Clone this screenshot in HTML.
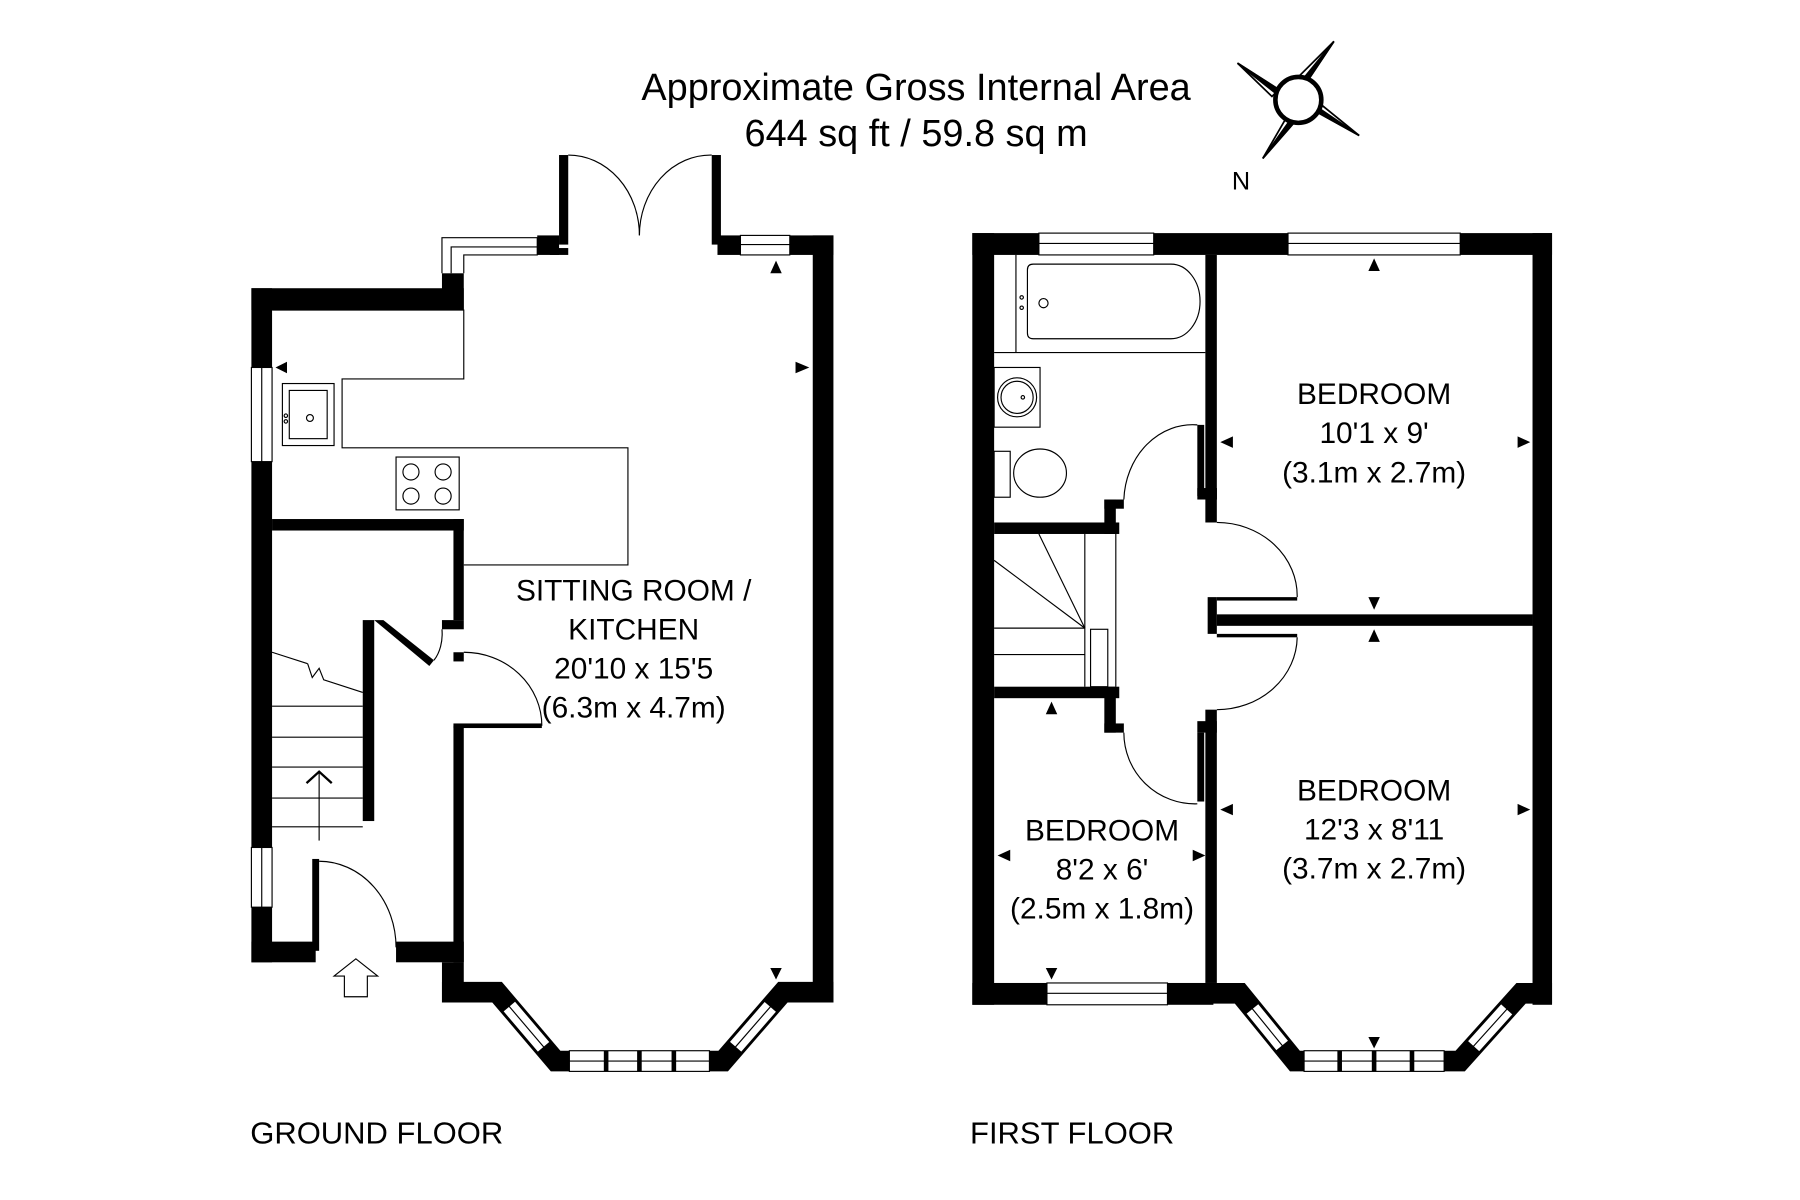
<!DOCTYPE html>
<html><head><meta charset="utf-8"><style>
html,body{margin:0;padding:0;background:#fff;}
svg{display:block;}
text{font-family:"Liberation Sans",Arial,sans-serif;fill:#000;}
</style></head><body>
<svg width="1800" height="1200" viewBox="0 0 1568 1045" preserveAspectRatio="none" xmlns="http://www.w3.org/2000/svg">
<rect width="1568" height="1045" fill="#fff"/>
<!-- Title -->
<text x="798" y="87" font-size="33" text-anchor="middle">Approximate Gross Internal Area</text>
<text x="798" y="127" font-size="33" text-anchor="middle">644 sq ft / 59.8 sq m</text>
<!-- Compass -->
<g stroke="#000" stroke-width="1.5" fill="#fff">
<polygon points="1100,138 1122,100 1128,106"/>
<polygon points="1162,36 1138,72 1132,66"/>
<polygon points="1078,55 1114,78 1108,84"/>
<polygon points="1184,118 1148,98 1152,92"/>
<polygon points="1100,138 1125,103 1128,106" fill="#000"/>
<polygon points="1162,36 1135,69 1138,72" fill="#000"/>
<polygon points="1078,55 1111,81 1114,78" fill="#000"/>
<polygon points="1184,118 1150,95 1148,98" fill="#000"/>
<circle cx="1131" cy="87" r="20" stroke-width="4"/>
</g>
<text x="1081" y="165" font-size="22" text-anchor="middle">N</text>

<!-- GROUND FLOOR -->
<g fill="#000">
<rect x="219" y="251" width="18" height="69"/>
<rect x="219" y="402" width="18" height="336"/>
<rect x="219" y="790" width="18" height="48"/>
<rect x="219" y="820" width="56" height="18"/>
<rect x="219" y="251" width="185" height="19"/>
<rect x="385" y="238" width="19" height="32"/>
<rect x="468" y="205" width="19" height="17"/>
<rect x="479" y="216" width="16" height="6"/>
<rect x="487" y="135" width="8" height="78"/>
<rect x="620" y="135" width="8" height="78"/>
<rect x="625" y="205" width="20" height="17"/>
<rect x="688" y="205" width="38" height="17"/>
<rect x="708" y="205" width="18" height="668"/>
<rect x="385" y="838" width="19" height="35"/>
<rect x="345" y="820" width="59" height="18"/>
<!-- interior -->
<rect x="237" y="452" width="167" height="10"/>
<rect x="395" y="452" width="9" height="88"/>
<rect x="385" y="540" width="19" height="8"/>
<rect x="395" y="568" width="9" height="8"/>
<rect x="395" y="632" width="9" height="206"/>
<rect x="395" y="630" width="77" height="4"/>
<rect x="316" y="540" width="10" height="175"/>
<rect x="272" y="748" width="6" height="80"/>
<polygon points="326,540 334,540 378,575 374,580"/>
</g>
<!-- ground bay -->
<polyline points="385,864 433,864 484,924 630,924 682,864 726,864" fill="none" stroke="#000" stroke-width="18" stroke-linejoin="miter"/>
<g transform="translate(433,864) rotate(49.6)">
<rect x="16" y="-7" width="47" height="14" fill="#fff" stroke="#000" stroke-width="1"/><line x1="16" y1="0" x2="63" y2="0" stroke="#000"/>
</g>
<g transform="translate(630,924) rotate(-49)">
<rect x="16" y="-7" width="47" height="14" fill="#fff" stroke="#000" stroke-width="1"/><line x1="16" y1="0" x2="63" y2="0" stroke="#000"/>
</g>
<g fill="none" stroke="#000" stroke-width="1">
<rect x="219" y="320" width="18" height="82"/><line x1="228" y1="320" x2="228" y2="402"/>
<rect x="219" y="738" width="18" height="52"/><line x1="228" y1="738" x2="228" y2="790"/>
<path d="M385,238 V207 H468 V222 H404 V238"/><path d="M393,238 V215 H468"/>
<rect x="645" y="205" width="43" height="17"/><line x1="645" y1="213" x2="688" y2="213"/>
<rect x="496" y="915" width="122" height="18" fill="#fff"/><line x1="496" y1="924" x2="618" y2="924"/>
<path d="M495,135 A62,70 0 0 1 557,205"/>
<path d="M620,135 A62,70 0 0 0 557,205"/>
<path d="M237,270 H404 V330 H298 V390 H547 V492 H404"/>
<rect x="246" y="334" width="45" height="54"/><rect x="252" y="340" width="33" height="42"/>
<circle cx="270" cy="364" r="3"/><circle cx="249" cy="362" r="1.5"/><circle cx="249" cy="367" r="1.5"/>
<rect x="345" y="398" width="55" height="46"/>
<circle cx="358" cy="411" r="7"/><circle cx="386" cy="411" r="7"/><circle cx="358" cy="432" r="7"/><circle cx="386" cy="432" r="7"/>
<line x1="237" y1="568" x2="268" y2="578"/><path d="M268,578 L272,590 L278,582 L282,592 L316,603"/>
<line x1="237" y1="615" x2="316" y2="615"/><line x1="237" y1="642" x2="316" y2="642"/>
<line x1="237" y1="668" x2="316" y2="668"/><line x1="237" y1="695" x2="316" y2="695"/>
<line x1="237" y1="720" x2="316" y2="720"/>
<line x1="278" y1="732" x2="278" y2="672"/><path d="M267,682 L278,672 L289,682" stroke-width="2"/>
<path d="M404,568 A68,64 0 0 1 472,632"/>
<path d="M378,575 A20,30 0 0 0 385,548"/>
<path d="M278,750 A67,75 0 0 1 345,825"/>
<path d="M300,868 V850 H291 L310,835 L329,850 H320 V868 Z"/>
</g>
<g fill="#000">
<rect x="526" y="915" width="4" height="18"/><rect x="555" y="915" width="4" height="18"/><rect x="585" y="915" width="4" height="18"/>
<polygon points="240,320 250,315 250,325"/>
<polygon points="705,320 693,315 693,325"/>
<polygon points="676,227 671,238 681,238"/>
<polygon points="676,853 671,843 681,843"/>
</g>
<text x="552" y="523" font-size="26" text-anchor="middle">SITTING ROOM /</text>
<text x="552" y="557" font-size="26" text-anchor="middle">KITCHEN</text>
<text x="552" y="591" font-size="26" text-anchor="middle">20'10 x 15'5</text>
<text x="552" y="625" font-size="26" text-anchor="middle">(6.3m x 4.7m)</text>
<text x="218" y="996" font-size="27">GROUND FLOOR</text>

<!-- FIRST FLOOR -->
<g fill="#000">
<rect x="847" y="203" width="19" height="672"/>
<rect x="847" y="203" width="58" height="19"/>
<rect x="1005" y="203" width="117" height="19"/>
<rect x="1272" y="203" width="80" height="19"/>
<rect x="1335" y="203" width="17" height="672"/>
<rect x="847" y="856" width="65" height="19"/>
<rect x="1017" y="856" width="40" height="19"/>
<rect x="1050" y="222" width="10" height="213"/>
<rect x="1043" y="370" width="6" height="62"/>
<rect x="1043" y="425" width="17" height="10"/>
<rect x="1050" y="425" width="10" height="30"/>
<rect x="1052" y="520" width="8" height="32"/>
<rect x="1060" y="535" width="275" height="10"/>
<rect x="1060" y="520" width="70" height="3"/>
<rect x="1060" y="552" width="70" height="3"/>
<rect x="1050" y="618" width="10" height="238"/>
<rect x="1043" y="628" width="17" height="10"/>
<rect x="1043" y="638" width="6" height="60"/>
<rect x="866" y="455" width="109" height="10"/>
<rect x="962" y="435" width="10" height="30"/>
<rect x="962" y="435" width="17" height="8"/>
<rect x="866" y="598" width="109" height="10"/>
<rect x="962" y="598" width="10" height="40"/>
<rect x="962" y="630" width="17" height="8"/>
</g>
<polyline points="1050,865 1080,865 1128,924 1272,924 1325,865 1352,865" fill="none" stroke="#000" stroke-width="18" stroke-linejoin="miter"/>
<g transform="translate(1080,865) rotate(50.9)">
<rect x="17" y="-7" width="42" height="14" fill="#fff" stroke="#000" stroke-width="1"/><line x1="17" y1="0" x2="59" y2="0" stroke="#000"/>
</g>
<g transform="translate(1272,924) rotate(-48)">
<rect x="17" y="-7" width="44" height="14" fill="#fff" stroke="#000" stroke-width="1"/><line x1="17" y1="0" x2="61" y2="0" stroke="#000"/>
</g>
<g fill="none" stroke="#000" stroke-width="1">
<rect x="905" y="203" width="100" height="19" fill="#fff"/><line x1="905" y1="212" x2="1005" y2="212"/>
<rect x="1122" y="203" width="150" height="19" fill="#fff"/><line x1="1122" y1="212" x2="1272" y2="212"/>
<rect x="912" y="856" width="105" height="19" fill="#fff"/><line x1="912" y1="865" x2="1017" y2="865"/>
<rect x="1136" y="915" width="122" height="18" fill="#fff"/><line x1="1136" y1="924" x2="1258" y2="924"/>
<line x1="866" y1="307" x2="1050" y2="307"/>
<line x1="885" y1="222" x2="885" y2="307"/>
<path d="M900,230 H1020 A25,32 0 0 1 1020,295 H900 Q895,295 895,290 V235 Q895,230 900,230 Z"/>
<circle cx="909" cy="264" r="4"/><circle cx="890" cy="259" r="1.5"/><circle cx="890" cy="268" r="1.5"/>
<rect x="866" y="320" width="40" height="52"/><circle cx="886" cy="346" r="17"/><circle cx="886" cy="346" r="14"/><circle cx="891" cy="346" r="1.5"/>
<ellipse cx="906" cy="412" rx="23" ry="21"/><rect x="866" y="393" width="14" height="40"/>
<line x1="945" y1="465" x2="945" y2="598"/>
<line x1="866" y1="488" x2="945" y2="547"/>
<line x1="905" y1="465" x2="945" y2="547"/>
<line x1="866" y1="547" x2="945" y2="547"/>
<line x1="866" y1="570" x2="945" y2="570"/>
<rect x="950" y="548" width="15" height="50"/>
<line x1="972" y1="465" x2="972" y2="598"/>
<path d="M1043,370 A60,68 0 0 0 979,435"/>
<path d="M1060,455 A70,64 0 0 1 1130,520"/>
<path d="M1060,618 A70,64 0 0 0 1130,555"/>
<path d="M979,638 A62,62 0 0 0 1043,700"/>
</g>
<g fill="#000">
<rect x="1165" y="915" width="4" height="18"/><rect x="1195" y="915" width="4" height="18"/><rect x="1228" y="915" width="4" height="18"/>
<polygon points="1197,225 1192,236 1202,236"/>
<polygon points="1063,385 1074,380 1074,390"/>
<polygon points="1333,385 1322,380 1322,390"/>
<polygon points="1197,531 1192,520 1202,520"/>
<polygon points="1197,548 1192,559 1202,559"/>
<polygon points="1063,705 1074,700 1074,710"/>
<polygon points="1333,705 1322,700 1322,710"/>
<polygon points="916,611 911,622 921,622"/>
<polygon points="869,745 880,740 880,750"/>
<polygon points="1050,745 1039,740 1039,750"/>
<polygon points="916,853 911,843 921,843"/>
<polygon points="1197,913 1192,903 1202,903"/>
</g>
<text x="1197" y="352" font-size="26" text-anchor="middle">BEDROOM</text>
<text x="1197" y="386" font-size="26" text-anchor="middle">10'1 x 9'</text>
<text x="1197" y="420" font-size="26" text-anchor="middle">(3.1m x 2.7m)</text>
<text x="1197" y="697" font-size="26" text-anchor="middle">BEDROOM</text>
<text x="1197" y="731" font-size="26" text-anchor="middle">12'3 x 8'11</text>
<text x="1197" y="765" font-size="26" text-anchor="middle">(3.7m x 2.7m)</text>
<text x="960" y="732" font-size="26" text-anchor="middle">BEDROOM</text>
<text x="960" y="766" font-size="26" text-anchor="middle">8'2 x 6'</text>
<text x="960" y="800" font-size="26" text-anchor="middle">(2.5m x 1.8m)</text>
<text x="845" y="996" font-size="27">FIRST FLOOR</text>
</svg>
</body></html>
